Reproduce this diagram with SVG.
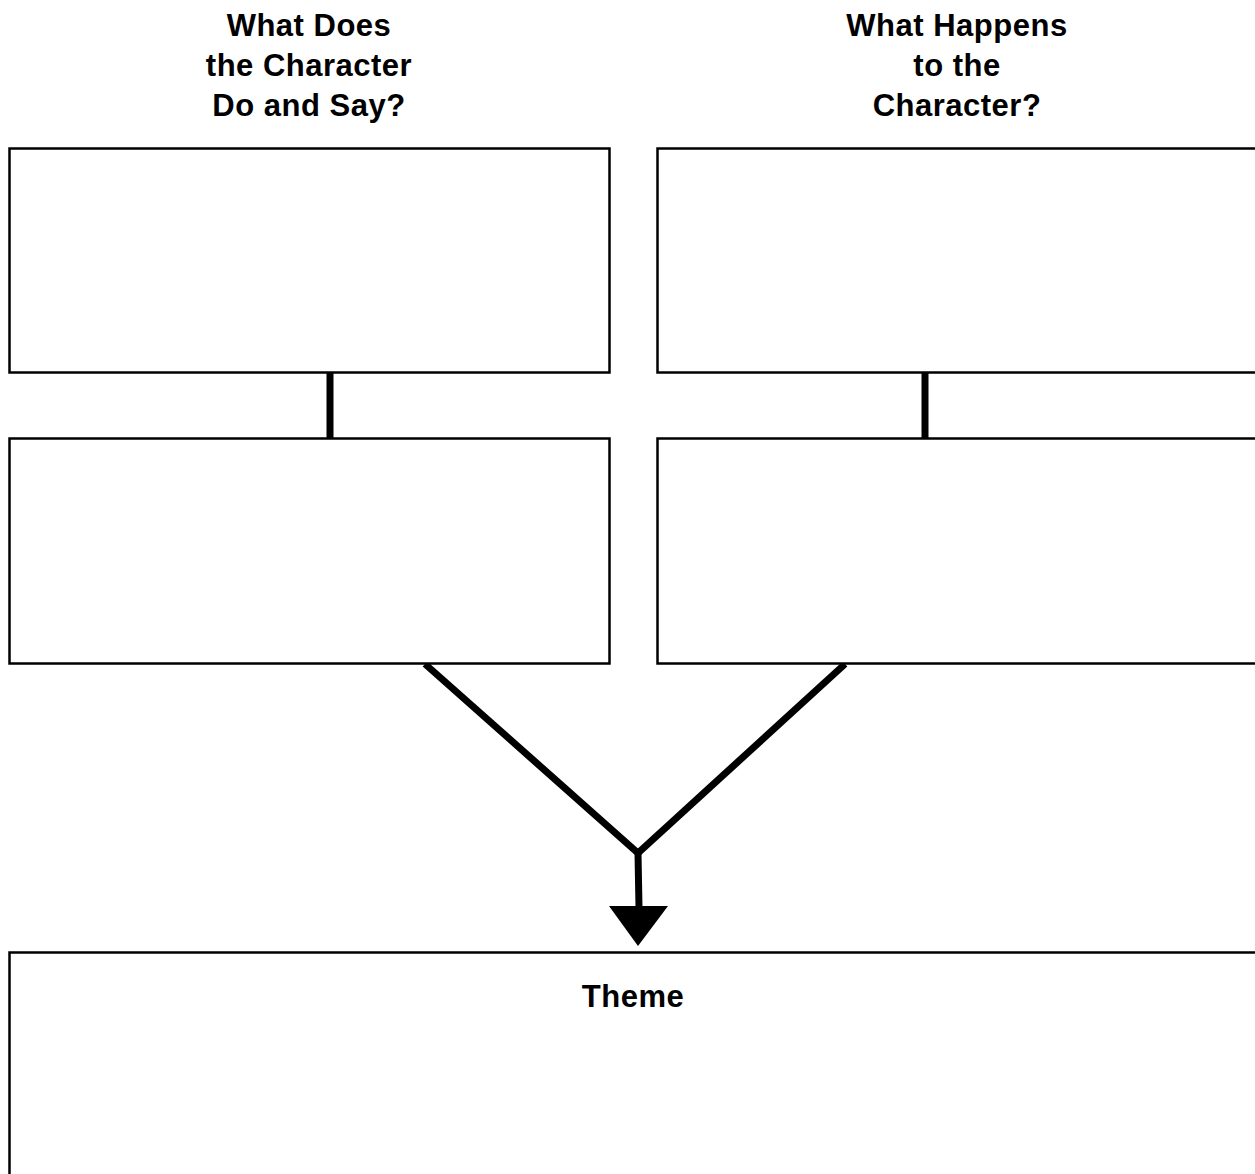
<svg xmlns="http://www.w3.org/2000/svg" width="1255" height="1174" viewBox="0 0 1255 1174">
<style>
.box{fill:#fff;stroke:#000;stroke-width:2.5}
.lbl{font-family:"Liberation Sans",Arial,sans-serif;font-weight:bold;font-size:31px;letter-spacing:0.5px;fill:#000;text-anchor:middle}
.con{stroke:#000;stroke-width:7;fill:none}
</style>
<rect width="1255" height="1174" fill="#fff"/>
<g id="heading-left">
<text class="lbl" x="309" y="36">What Does</text>
<text class="lbl" x="309" y="76">the Character</text>
<text class="lbl" x="309" y="116">Do and Say?</text>
</g>
<g id="heading-right">
<text class="lbl" x="957" y="36">What Happens</text>
<text class="lbl" x="957" y="76">to the</text>
<text class="lbl" x="957" y="116">Character?</text>
</g>
<g id="connectors">
<line class="con" x1="330" y1="373" x2="330" y2="438"/>
<line class="con" x1="925" y1="373" x2="925" y2="438"/>
<polyline class="con" points="425,664 638,853 845,664" stroke-linejoin="miter"/>
<line class="con" x1="638" y1="853" x2="639" y2="908"/>
<polygon points="609,906 668,906 638,946" fill="#000"/>
</g>
<g id="box-left-top"><rect class="box" x="9.5" y="148.5" width="600" height="224"/></g>
<g id="box-right-top"><rect class="box" x="657.5" y="148.5" width="610" height="224"/></g>
<g id="box-left-bottom"><rect class="box" x="9.5" y="438.5" width="600" height="225"/></g>
<g id="box-right-bottom"><rect class="box" x="657.5" y="438.5" width="610" height="225"/></g>
<g id="box-theme">
<rect class="box" x="9.5" y="952.5" width="1260" height="240"/>
<text class="lbl" x="633" y="1007">Theme</text>
</g>
</svg>
